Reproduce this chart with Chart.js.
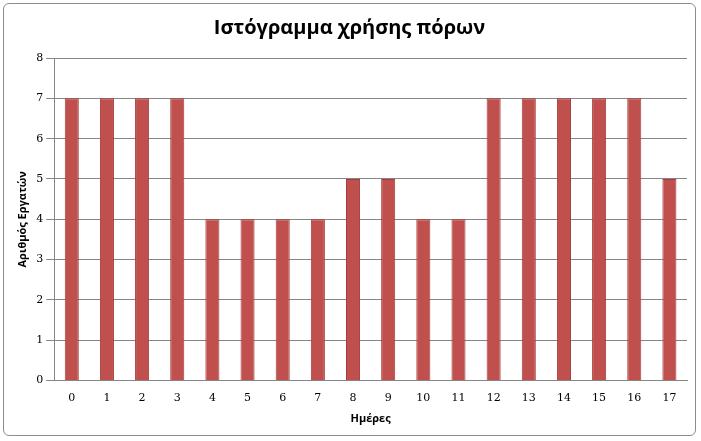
<!DOCTYPE html>
<html><head><meta charset="utf-8">
<script src="https://cdn.jsdelivr.net/npm/chart.js@4/dist/chart.umd.min.js"></script>
<style>html,body{margin:0;padding:0;background:#fff}#wrap{position:absolute;left:3px;top:3px;width:693px;height:433px;border:1px solid #8c8c8c;border-radius:6px;box-sizing:border-box}</style>
</head><body><div id="wrap"><canvas id="c" width="691" height="431"></canvas></div>
<script>
const categories=["0","1","2","3","4","5","6","7","8","9","10","11","12","13","14","15","16","17"];
const workers=[7,7,7,7,4,4,4,4,5,5,4,4,7,7,7,7,7,5];
const ctx=document.getElementById('c').getContext('2d');
new Chart(ctx,{type:'bar',data:{labels:categories,datasets:[{data:workers,
backgroundColor:(c)=>{const a=c.chart.chartArea;if(!a)return '#c0504d';const el=c.element;const g=c.chart.ctx.createLinearGradient(0,0,c.chart.width,0);return '#c0504d';},
borderColor:'#a53d3a',borderWidth:1,barPercentage:0.4,categoryPercentage:1}]},
options:{responsive:false,animation:false,layout:{padding:{left:8,right:8,top:4,bottom:6}},
plugins:{legend:{display:false},tooltip:{enabled:false},title:{display:true,text:'Ιστόγραμμα χρήσης πόρων',color:'#000',font:{family:'Open Sans',size:20},padding:{top:8,bottom:18}}},
scales:{x:{grid:{display:false},border:{color:'#868686'},ticks:{color:'#000',font:{family:'DejaVu Serif',size:11}},title:{display:true,text:'Ημέρες',color:'#000',font:{family:'Open Sans',size:11,weight:'bold'}}},
y:{min:0,max:8,ticks:{stepSize:1,color:'#000',font:{family:'DejaVu Serif',size:11}},grid:{color:'#868686',drawTicks:true},border:{color:'#868686'},title:{display:true,text:'Αριθμός Εργατών',color:'#000',font:{family:'Open Sans',size:11,weight:'bold'}}}}}});
</script></body></html>
